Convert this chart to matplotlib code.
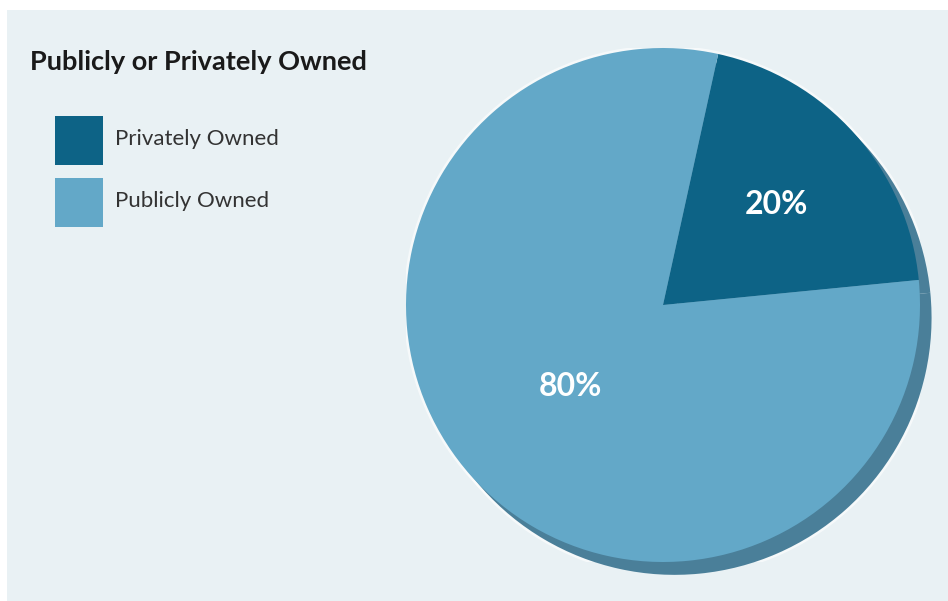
import matplotlib.pyplot as plt
from matplotlib.patches import Rectangle, Circle
import numpy as np

# ownership split
categories = ['Privately Owned', 'Publicly Owned']
shares = [20, 80]
colors = ['#0d6386', '#63a8c8']
title = 'Publicly or Privately Owned'

shadow_color = '#4a7f99'
panel_color = '#e9f1f4'

W, H = 948, 601
fig = plt.figure(figsize=(W / 100, H / 100), dpi=100)
fig.patch.set_facecolor('white')

# light panel behind everything
fig.add_artist(Rectangle((7 / W, 0), 1, 1 - 10 / H, transform=fig.transFigure,
                         facecolor=panel_color, edgecolor='none', zorder=0))

# pie axes: centre (663, 305) px, radius 257 px
cx, cy, r = 663, 305, 257
ax = fig.add_axes([(cx - r) / W, (H - cy - r) / H, 2 * r / W, 2 * r / H])
ax.set_axis_off()
ax.set_aspect('equal')

off = (0.045, -0.05)
for c in [off, (0, 0)]:
    ax.add_patch(Circle(c, 1.01, facecolor='white', edgecolor='none', alpha=0.6, zorder=1))
ax.pie(shares, colors=[shadow_color] * len(shares), startangle=77.6,
       counterclock=False, center=off, wedgeprops=dict(linewidth=0, zorder=2))
wedges, _ = ax.pie(shares, colors=colors, startangle=77.6, counterclock=False,
                   wedgeprops=dict(linewidth=0, zorder=3))
for w in wedges:
    w.set_zorder(3)

ax.set_xlim(-1, 1)
ax.set_ylim(-1, 1)

# percentage labels at each wedge's mid angle
label_r = [0.59, 0.48]
for w, s, rr in zip(wedges, shares, label_r):
    mid = np.deg2rad((w.theta1 + w.theta2) / 2)
    ax.text(rr * np.cos(mid), rr * np.sin(mid), f'{s}%', color='white',
            fontsize=23, fontweight='bold', family='Lato',
            ha='center', va='center', zorder=5)

# title and legend
fig.text(30 / W, 1 - 62 / H, title, fontsize=19.5, fontweight='bold',
         family='Lato', color='#1a1a1a', ha='left', va='center')
for i, (cat, col) in enumerate(zip(categories, colors)):
    top = 116 + i * 62
    fig.add_artist(Rectangle((55 / W, 1 - (top + 49) / H), 48 / W, 49 / H,
                             transform=fig.transFigure, facecolor=col,
                             edgecolor='none'))
    fig.text(115 / W, 1 - (top + 23) / H, cat, fontsize=16, fontweight='normal',
             family='Lato', color='#333333', ha='left', va='center')

fig.savefig('out.png', dpi=100, facecolor=fig.get_facecolor())
